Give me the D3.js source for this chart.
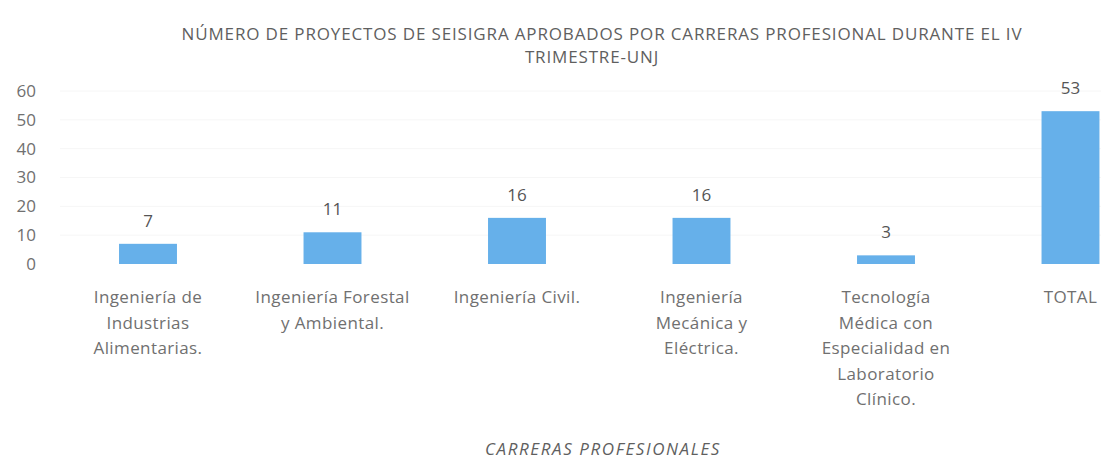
<!DOCTYPE html>
<html>
<head>
<meta charset="utf-8">
<script src="https://cdn.jsdelivr.net/npm/d3@7"></script>
<style>
  body { margin: 0; background: #fff; }
  svg { display: block; font-family: "Open Sans", sans-serif; }
</style>
</head>
<body>
<div id="chart"></div>
<script>
const categories = [
  "Ingeniería de Industrias Alimentarias.",
  "Ingeniería Forestal y Ambiental.",
  "Ingeniería Civil.",
  "Ingeniería Mecánica y Eléctrica.",
  "Tecnología Médica con Especialidad en Laboratorio Clínico.",
  "TOTAL"
];
const labelLines = [
  ["Ingeniería de", "Industrias", "Alimentarias."],
  ["Ingeniería Forestal", "y Ambiental."],
  ["Ingeniería Civil."],
  ["Ingeniería", "Mecánica y", "Eléctrica."],
  ["Tecnología", "Médica con", "Especialidad en", "Laboratorio", "Clínico."],
  ["TOTAL"]
];
const values = [7, 11, 16, 16, 3, 53];
const yTicks = [0, 10, 20, 30, 40, 50, 60];
const titleLines = [
  "NÚMERO DE PROYECTOS DE SEISIGRA APROBADOS POR CARRERAS PROFESIONAL DURANTE EL IV",
  "TRIMESTRE-UNJ"
];
const axisTitle = "CARRERAS PROFESIONALES";

const width = 1101, height = 461;
const barColor = "#66b0ea";
const textColor = "#707070";

const svg = d3.select("#chart").append("svg")
  .attr("width", width)
  .attr("height", height);

// scales
const x = d3.scaleBand()
  .domain(categories)
  .range([55.75, 1162.75])
  .paddingInner(0.686)
  .paddingOuter(0.343);

const y = d3.scaleLinear()
  .domain([0, 60])
  .range([264, 91]);

// title
svg.append("g").selectAll("text")
  .data(titleLines)
  .join("text")
  .attr("x", (d, i) => (i ? 592 : 602))
  .attr("y", (d, i) => 40 + i * 23)
  .attr("text-anchor", "middle")
  .attr("font-size", 17)
  .attr("letter-spacing", 0.85)
  .attr("fill", "#5f5f5f")
  .text((d) => d);

// faint gridlines (barely visible in the scan)
svg.append("g").selectAll("line")
  .data(yTicks.slice(1))
  .join("line")
  .attr("x1", 60)
  .attr("x2", width)
  .attr("y1", (d) => y(d))
  .attr("y2", (d) => y(d))
  .attr("stroke", "#f6f6f6")
  .attr("stroke-width", 1);

// y axis labels
const yAxis = svg.append("g")
  .attr("transform", "translate(38,0)")
  .call(d3.axisLeft(y).tickValues(yTicks).tickSize(0).tickPadding(2));
yAxis.select(".domain").remove();
yAxis.selectAll("text")
  .attr("font-size", 17)
  .attr("font-family", "Open Sans, sans-serif")
  .attr("fill", textColor);

// bars
svg.append("g").selectAll("rect")
  .data(values)
  .join("rect")
  .attr("x", (d, i) => x(categories[i]))
  .attr("width", x.bandwidth())
  .attr("y", (d) => y(d))
  .attr("height", (d) => y(0) - y(d))
  .attr("fill", barColor);

// data labels
svg.append("g").selectAll("text")
  .data(values)
  .join("text")
  .attr("x", (d, i) => x(categories[i]) + x.bandwidth() / 2)
  .attr("y", (d) => y(d) - 17)
  .attr("text-anchor", "middle")
  .attr("font-size", 17)
  .attr("fill", "#555")
  .text((d) => d);

// category labels
const cat = svg.append("g").selectAll("text")
  .data(labelLines)
  .join("text")
  .attr("text-anchor", "middle")
  .attr("font-size", 17)
  .attr("letter-spacing", 0.4)
  .attr("fill", textColor);
cat.selectAll("tspan")
  .data((d, i) => d.map((t) => ({ t: t, i: i })))
  .join("tspan")
  .attr("x", (d) => x(categories[d.i]) + x.bandwidth() / 2)
  .attr("y", (d, j) => 303 + j * 25.5)
  .text((d) => d.t);

// axis title
svg.append("text")
  .attr("x", 603)
  .attr("y", 455)
  .attr("text-anchor", "middle")
  .attr("font-size", 17)
  .attr("letter-spacing", 1.6)
  .attr("font-style", "italic")
  .attr("fill", "#5f5f5f")
  .text(axisTitle);
</script>
</body>
</html>
